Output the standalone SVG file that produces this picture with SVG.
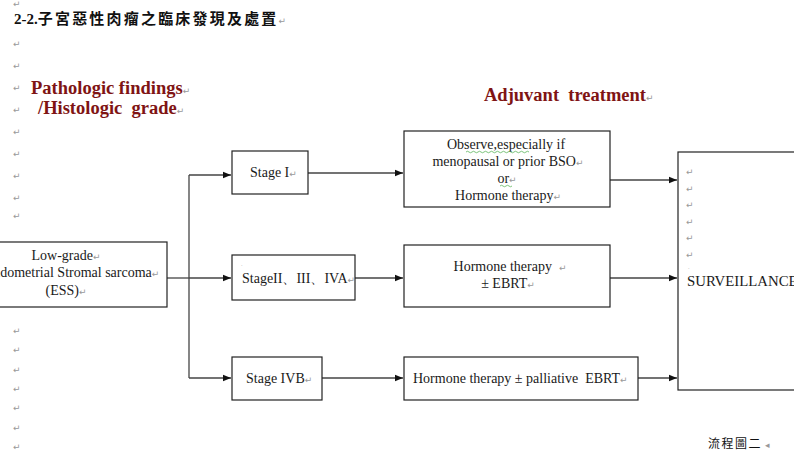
<svg xmlns="http://www.w3.org/2000/svg" width="794" height="451" viewBox="0 0 794 451">
  <style>
    .box { fill: #fff; stroke: #222; stroke-width: 1.2; }
    .t { font-family: "Liberation Serif", "Times New Roman", serif; font-size: 14px; fill: #1a1a1a; white-space: pre; }
    .head { font-family: "Liberation Serif", "Times New Roman", serif; font-size: 18.5px; font-weight: bold; fill: #7f1414; white-space: pre; }
    .pm { font-family: "DejaVu Sans", sans-serif; font-size: 9px; fill: #999; font-weight: normal; letter-spacing: 0; }
    .cn { font-family: "Liberation Serif", "Noto Sans CJK TC", serif; fill: #111; }
    .edge { fill: none; stroke: #444; stroke-width: 1.3; }
  </style>
  <defs>
    <marker id="arrow" viewBox="0 0 10 10" refX="10" refY="5" markerWidth="8" markerHeight="8" markerUnits="userSpaceOnUse" orient="auto">
      <path d="M0,1 L10,5 L0,9 Z" fill="#111"/>
    </marker>
  </defs>
  <rect width="794" height="451" fill="#fff"/>

  <!-- title -->
  <text class="cn" x="14" y="24" style="font-size:15px;font-weight:bold">2-2.<tspan style="letter-spacing:2.2px">子宮惡性肉瘤之臨床發現及處置</tspan><tspan class="pm">↵</tspan></text>

  <!-- paragraph marks down the left margin -->
  <g id="margin-marks" class="pm">
    <text x="13" y="7">↵</text>
    <text x="13" y="47">↵</text>
    <text x="13" y="69">↵</text>
    <text x="13" y="91">↵</text>
    <text x="13" y="113">↵</text>
    <text x="13" y="135">↵</text>
    <text x="13" y="157">↵</text>
    <text x="13" y="179">↵</text>
    <text x="13" y="201">↵</text>
    <text x="13" y="219">↵</text>
    <text x="13" y="334">↵</text>
    <text x="13" y="353">↵</text>
    <text x="13" y="373">↵</text>
    <text x="13" y="392">↵</text>
    <text x="13" y="411">↵</text>
    <text x="13" y="431">↵</text>
    <text x="13" y="450">↵</text>
  </g>

  <!-- section headings -->
  <text class="head" x="31" y="94">Pathologic findings<tspan class="pm">↵</tspan></text>
  <text class="head" x="38" y="114">/Histologic  grade<tspan class="pm">↵</tspan></text>
  <text class="head" x="484" y="101">Adjuvant  treatment<tspan class="pm">↵</tspan></text>

  <!-- connectors -->
  <g id="connectors">
    <path class="edge" d="M167,278 H189"/>
    <path class="edge" d="M189,175 V378"/>
    <path class="edge" d="M189,175 H231" marker-end="url(#arrow)"/>
    <path class="edge" d="M189,278 H231" marker-end="url(#arrow)"/>
    <path class="edge" d="M189,378 H231" marker-end="url(#arrow)"/>
    <path class="edge" d="M308,173 H403" marker-end="url(#arrow)"/>
    <path class="edge" d="M355,278 H403" marker-end="url(#arrow)"/>
    <path class="edge" d="M322,378 H403" marker-end="url(#arrow)"/>
    <path class="edge" d="M610,180 H677" marker-end="url(#arrow)"/>
    <path class="edge" d="M610,278 H677" marker-end="url(#arrow)"/>
    <path class="edge" d="M638,378 H677" marker-end="url(#arrow)"/>
  </g>

  <!-- nodes -->
  <g id="ess">
    <rect class="box" x="-40" y="242" width="207" height="65"/>
    <text class="t" x="66" y="260" text-anchor="middle">Low-grade<tspan class="pm">↵</tspan></text>
    <text class="t" x="72" y="277" text-anchor="middle">Endometrial Stromal sarcoma<tspan class="pm">↵</tspan></text>
    <text class="t" x="66" y="295" text-anchor="middle">(ESS)<tspan class="pm">↵</tspan></text>
  </g>

  <g id="stage-1">
    <rect class="box" x="232" y="151" width="76" height="43"/>
    <text class="t" x="250" y="177">Stage I<tspan class="pm">↵</tspan></text>
  </g>

  <g id="stage-2-4a">
    <rect class="box" x="232" y="255" width="123" height="45"/>
    <text class="pm" x="241" y="266" style="font-size:5px">.</text>
    <text class="t" x="242" y="283">StageII、III、IVA<tspan class="pm">↵</tspan></text>
  </g>

  <g id="stage-4b">
    <rect class="box" x="232" y="357" width="90" height="43"/>
    <text class="t" x="246" y="383">Stage IVB<tspan class="pm">↵</tspan></text>
  </g>

  <g id="tx-stage-1">
    <rect class="box" x="404" y="131" width="206" height="76"/>
    <text class="t" x="506" y="149" text-anchor="middle">Observe,especially if</text>
    <text class="t" x="508" y="166" text-anchor="middle">menopausal or prior BSO<tspan class="pm">↵</tspan></text>
    <text class="t" x="507" y="183" text-anchor="middle">or<tspan class="pm">↵</tspan></text>
    <text class="t" x="508" y="200" text-anchor="middle">Hormone therapy<tspan class="pm">↵</tspan></text>
    <path d="M466,152 q1.5,-1.5 3,0 t3,0 t3,0 t3,0 t3,0 t3,0 t3,0 t3,0 t3,0 t3,0 t3,0 t3,0 t3,0 t3,0 t3,0 t3,0 t3,0 t3,0 t3,0 t3,0 t3,0" fill="none" stroke="#5bb55b" stroke-width="0.8"/>
    <path d="M500,186 q1.5,-1.5 3,0 t3,0 t3,0 t3,0" fill="none" stroke="#5bb55b" stroke-width="0.8"/>
  </g>

  <g id="tx-stage-2-4a">
    <rect class="box" x="404" y="245" width="206" height="62"/>
    <text class="t" x="510" y="271" text-anchor="middle">Hormone therapy  <tspan class="pm">↵</tspan></text>
    <text class="t" x="508" y="288" text-anchor="middle">± EBRT<tspan class="pm">↵</tspan></text>
  </g>

  <g id="tx-stage-4b">
    <rect class="box" x="404" y="357" width="234" height="43"/>
    <text class="t" x="413" y="383">Hormone therapy ± palliative  EBRT<tspan class="pm">↵</tspan></text>
  </g>

  <g id="surveillance">
    <rect class="box" x="678" y="152" width="140" height="238"/>
    <g class="pm">
      <text x="686" y="175">↵</text>
      <text x="686" y="192">↵</text>
      <text x="686" y="208">↵</text>
      <text x="686" y="225">↵</text>
      <text x="686" y="241">↵</text>
      <text x="686" y="258">↵</text>
      <text x="688" y="269" style="font-size:5px">.</text>
    </g>
    <text class="t" x="687" y="286" style="font-size:14.8px">SURVEILLANCE</text>
  </g>

  <!-- caption -->
  <text class="cn" x="708" y="448" style="font-size:12px;letter-spacing:1.5px">流程圖二<tspan class="pm"> ◂</tspan></text>
</svg>
